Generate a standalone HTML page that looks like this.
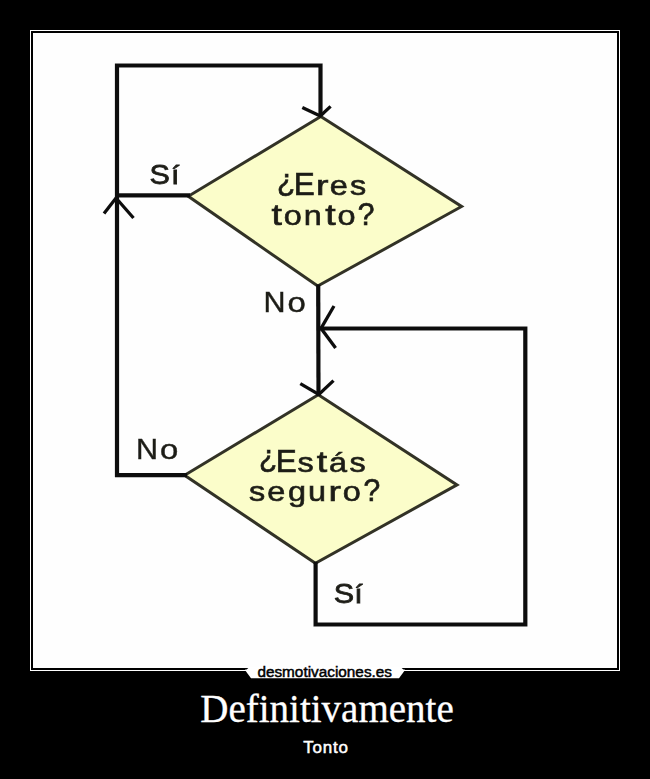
<!DOCTYPE html>
<html><head><meta charset="utf-8">
<style>
html,body{margin:0;padding:0;background:#000;width:650px;height:779px;overflow:hidden;position:relative}
#frame{position:absolute;left:30px;top:30px;width:588px;height:639px;border:1px solid #fff;}
#img{position:absolute;left:33px;top:33px;width:584px;height:635px;background:#fefefe;}
svg{position:absolute;left:0;top:0}
#title{position:absolute;left:2px;top:687px;width:650px;text-align:center;color:#fff;font-family:"Liberation Serif",serif;font-size:39px;line-height:44px;white-space:nowrap;-webkit-text-stroke:0.3px #fff}
#sub{position:absolute;left:1px;top:738px;width:650px;text-align:center;color:#fff;font-family:"Liberation Sans",sans-serif;font-size:17px;-webkit-text-stroke:0.5px #fff;letter-spacing:0.8px;line-height:20px}
</style></head><body>
<div id="frame"></div>
<div id="img"></div>
<svg width="650" height="779" viewBox="0 0 650 779">
  <defs><filter id="soft" x="-5%" y="-5%" width="110%" height="110%"><feGaussianBlur stdDeviation="0.45"/></filter></defs>
  <g filter="url(#soft)">
  <!-- diamonds -->
  <polygon points="320.8,116.4 461.6,206.5 317.7,286.1 188.3,196.3" fill="#fbfdca" stroke="#333326" stroke-width="3"/>
  <polygon points="318.3,394.7 457,484.9 315.4,563.2 184.6,475.3" fill="#fbfdca" stroke="#333326" stroke-width="3"/>
  <g fill="none" stroke="#111" stroke-width="4.2" stroke-linejoin="miter" stroke-linecap="butt">
    <polyline points="117,477 117,65.5 320.5,65.5 320.5,116"/>
    <polyline points="115,475.2 187,475.2"/>
    <polyline points="117,195.3 190,195.3"/>
    <polyline points="318.2,284.6 318.5,396"/>
    <polyline points="315.6,561.7 315.6,624.5 525.3,624.5 525.3,328.5 320,328.5"/>
    <!-- arrowheads -->
    <g stroke-width="3.3">
    <polyline points="302.3,107.4 320.3,116 330.6,106.4"/>
    <polyline points="104,213.5 116,198 133.5,218"/>
    <polyline points="334,306 321,328.3 335.6,348"/>
    <polyline points="300.3,383.7 318.8,394.5 333.5,380.6"/>
    </g>
  </g>
  <g font-family="Liberation Sans, sans-serif" fill="#1e1e18" stroke="#1e1e18" stroke-width="0.65" font-size="30">
    <text transform="translate(277.01,190.97) scale(1.000,1.060)">¿</text>
    <text transform="translate(293.68,195.30) scale(1.050,1.060)">E</text>
    <text transform="translate(316.07,195.30) scale(1.250,0.900)">r</text>
    <text transform="translate(329.77,195.30) scale(1.080,0.900)">e</text>
    <text transform="translate(349.98,195.30) scale(1.080,0.900)">s</text>
    <text transform="translate(271.44,224.80) scale(1.250,1.000)">t</text>
    <text transform="translate(283.69,224.80) scale(1.080,0.900)">o</text>
    <text transform="translate(303.82,224.80) scale(1.080,0.900)">n</text>
    <text transform="translate(325.34,224.80) scale(1.250,1.000)">t</text>
    <text transform="translate(337.59,224.80) scale(1.080,0.900)">o</text>
    <text transform="translate(357.65,224.80) scale(1.000,1.060)">?</text>
    <text transform="translate(259.06,467.17) scale(1.000,1.060)">¿</text>
    <text transform="translate(275.73,471.50) scale(1.050,1.060)">E</text>
    <text transform="translate(297.48,471.50) scale(1.080,0.900)">s</text>
    <text transform="translate(316.69,471.50) scale(1.250,1.000)">t</text>
    <text transform="translate(329.00,471.50) scale(1.080,0.900)">á</text>
    <text transform="translate(349.48,471.50) scale(1.080,0.900)">s</text>
    <text transform="translate(249.03,501.30) scale(1.080,0.900)">s</text>
    <text transform="translate(267.17,501.30) scale(1.080,0.900)">e</text>
    <text transform="translate(288.00,501.30) scale(1.080,0.900)">g</text>
    <text transform="translate(308.11,501.30) scale(1.080,0.900)">u</text>
    <text transform="translate(328.52,501.30) scale(1.250,0.900)">r</text>
    <text transform="translate(342.64,501.30) scale(1.080,0.900)">o</text>
    <text transform="translate(363.60,501.30) scale(1.000,1.060)">?</text>
  </g>
  <g font-family="Liberation Sans, sans-serif" fill="#1e1e18" stroke="#1e1e18" stroke-width="0.55" font-size="30.5">
    <text transform="translate(149.59,184.30) scale(1.000,0.920)" stroke-width="0.9">S</text>
    <text transform="translate(171.08,184.30) scale(1.000,0.860)" stroke-width="0.9">í</text>
    <text transform="translate(263.58,312.30) scale(1.000,0.960)" stroke-width="0.45">N</text>
    <text transform="translate(287.54,312.30) scale(1.080,0.930)" stroke-width="0.45">o</text>
    <text transform="translate(135.88,458.80) scale(1.000,0.960)" stroke-width="0.45">N</text>
    <text transform="translate(159.89,458.80) scale(1.080,0.930)" stroke-width="0.45">o</text>
    <text transform="translate(333.69,603.00) scale(1.000,0.920)" stroke-width="0.9">S</text>
    <text transform="translate(354.23,603.00) scale(1.000,0.860)" stroke-width="0.9">í</text>
  </g>
  </g>
  <polygon points="248.8,667.5 245.5,670.8 251,678.2 399,678.2 404.5,670.8 401.2,667.5" fill="#fff"/>
  <rect x="245" y="669.6" width="160" height="1.2" fill="#fff"/>
  <text x="257.4" y="676.6" font-family="Liberation Sans, sans-serif" font-size="15.5" fill="#000" stroke="#000" stroke-width="0.5" textLength="134.6" lengthAdjust="spacingAndGlyphs">desmotivaciones.es</text>
</svg>
<div id="title">Definitivamente</div>
<div id="sub">Tonto</div>
</body></html>
